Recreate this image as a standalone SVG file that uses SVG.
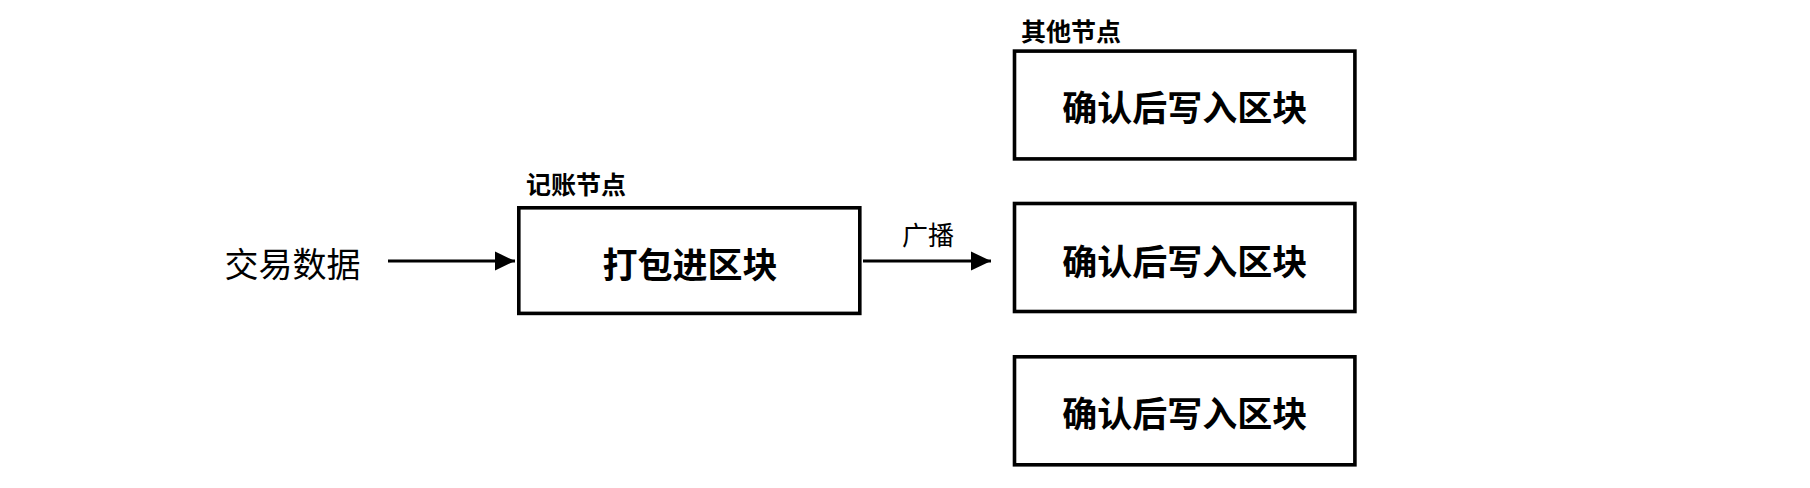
<svg xmlns="http://www.w3.org/2000/svg" width="1810" height="488" viewBox="0 0 1810 488">
  <style>
    .box { fill: #ffffff; stroke: #000000; stroke-width: 3.6; }
    .t { font-family: "Noto Sans CJK SC", "Noto Sans", sans-serif; fill: #000000; dominant-baseline: central; }
    .big { font-size: 35px; font-weight: bold; text-anchor: middle; }
    .lbl { font-size: 25px; font-weight: bold; }
    .plain { font-size: 34px; text-anchor: middle; }
    .elbl { font-size: 26px; text-anchor: middle; }
    .edge { stroke: #000000; stroke-width: 3.2; fill: none; }
  </style>
  <defs>
    <marker id="arrow" markerUnits="userSpaceOnUse" markerWidth="20" markerHeight="20" viewBox="0 0 18 18" refX="18" refY="9" orient="auto">
      <path d="M0,0.5 L18,9 L0,17.5 Z" fill="#000000"/>
    </marker>
  </defs>
  <rect width="1810" height="488" fill="#ffffff"/>

  <g id="source">
    <text class="t plain" x="292.5" y="262">交易数据</text>
  </g>

  <g id="node-pack">
    <rect class="box" x="518.8" y="207.8" width="341" height="105.6"/>
    <text class="t big" x="690" y="262">打包进区块</text>
    <text class="t lbl" x="526" y="182.5">记账节点</text>
  </g>

  <g id="node-other1">
    <rect class="box" x="1014.5" y="51.1" width="340.4" height="107.8"/>
    <text class="t big" x="1184.7" y="105.5">确认后写入区块</text>
    <text class="t lbl" x="1021" y="30">其他节点</text>
  </g>

  <g id="node-other2">
    <rect class="box" x="1014.5" y="203.5" width="340.4" height="108"/>
    <text class="t big" x="1184.7" y="259">确认后写入区块</text>
  </g>

  <g id="node-other3">
    <rect class="box" x="1014.5" y="356.8" width="340.4" height="108"/>
    <text class="t big" x="1184.7" y="411.5">确认后写入区块</text>
  </g>

  <g id="connectors">
    <line class="edge" x1="388" y1="261" x2="515" y2="261" marker-end="url(#arrow)"/>
    <line class="edge" x1="863" y1="261" x2="991" y2="261" marker-end="url(#arrow)"/>
    <text class="t elbl" x="928" y="233">广播</text>
  </g>
</svg>
